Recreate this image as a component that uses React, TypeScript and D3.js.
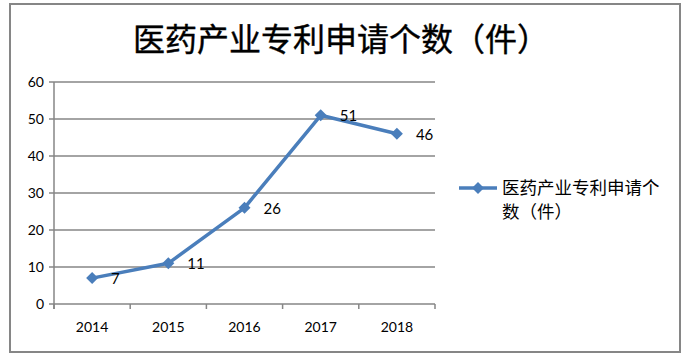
import React from "react";
import * as d3 from "d3";

const years = ["2014", "2015", "2016", "2017", "2018"];
const counts = [7, 11, 26, 51, 46];
const yTicks = [0, 10, 20, 30, 40, 50, 60];
const title = "医药产业专利申请个数（件）";
const legendLines = ["医药产业专利申请个", "数（件）"];

export default function App() {
  const W = 688, H = 357;
  const left = 54, right = 435, top = 82, bottom = 304;
  const x = d3.scaleBand<string>().domain(years).range([left, right]).padding(0);
  const y = d3.scaleLinear().domain([0, 60]).range([bottom, top]);
  const cx = (d: string) => (x(d) as number) + x.bandwidth() / 2;
  const line = d3.line<number>().x((_, i) => cx(years[i])).y((v) => y(v));
  const grey = "#868686";
  const blue = "#4A7EBB";
  const font = "Lato, 'Open Sans', 'Noto Sans', sans-serif";
  const diamond = (px: number, py: number, r: number) =>
    `M${px},${py - r}L${px + r},${py}L${px},${py + r}L${px - r},${py}Z`;
  const boundaries = d3.range(years.length + 1).map((i) => left + i * x.bandwidth());

  return (
    <svg width={W} height={H} style={{ position: "absolute", left: 0, top: 0 }}>
      <rect x={0} y={0} width={W} height={H} fill="#fff" />
      <rect x={10} y={4} width={670} height={348} fill="#fff" stroke={grey} strokeWidth={2} />
      <text x={341} y={51} textAnchor="middle" fontSize={32} fontWeight={400} fontFamily="'Noto Sans CJK SC', serif" fill="#000" stroke="#000" strokeWidth={0.4}>
        {title}
      </text>
      {yTicks.map((t) => (
        <g key={t}>
          <line x1={left - 5} x2={right} y1={y(t)} y2={y(t)} stroke={grey} strokeWidth={1.5} />
          <text x={44} y={y(t) + 5} textAnchor="end" fontSize={14} fontFamily={font} fill="#000">{t}</text>
        </g>
      ))}
      <line x1={left} x2={left} y1={top} y2={bottom + 5} stroke={grey} strokeWidth={1.5} />
      {boundaries.map((b, i) => (
        <line key={i} x1={b} x2={b} y1={bottom} y2={bottom + 5} stroke={grey} strokeWidth={1.5} />
      ))}
      {years.map((yr) => (
        <text key={yr} x={cx(yr)} y={332} textAnchor="middle" fontSize={14} fontFamily={font} fill="#000">{yr}</text>
      ))}
      <path d={line(counts) || ""} fill="none" stroke={blue} strokeWidth={3.5} strokeLinejoin="round" />
      {counts.map((v, i) => (
        <path key={i} d={diamond(cx(years[i]), y(v), 6)} fill={blue} />
      ))}
      {counts.map((v, i) => (
        <text key={"l" + i} x={cx(years[i]) + 19} y={y(v) + 6} fontSize={15} fontFamily={font} fill="#000">{v}</text>
      ))}
      <line x1={459} x2={497} y1={188} y2={188} stroke={blue} strokeWidth={3.5} />
      <path d={diamond(478, 188, 6)} fill={blue} />
      {legendLines.map((t, i) => (
        <text key={i} x={502} y={194 + i * 24} fontSize={17.5} fontFamily="'Noto Sans CJK SC', sans-serif" fill="#000">{t}</text>
      ))}
    </svg>
  );
}
